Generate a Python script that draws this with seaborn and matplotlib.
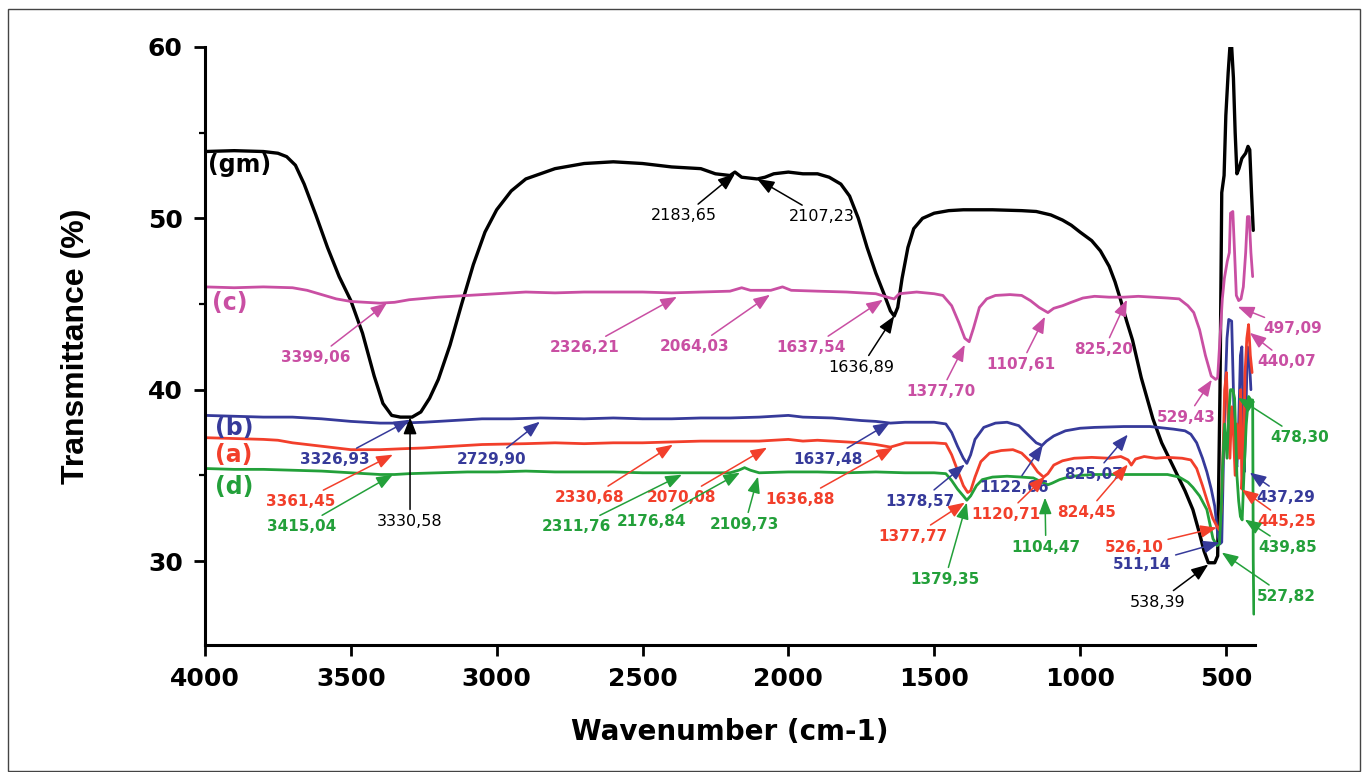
import matplotlib
matplotlib.use('Agg')
import matplotlib.pyplot as plt
import seaborn as sns
from matplotlib.patches import Rectangle
from matplotlib.ticker import MultipleLocator

# ---- spectra (wavenumber cm-1, transmittance %) ----
gm_wn = [4000, 3900, 3800, 3750, 3720, 3690, 3660, 3620, 3580, 3540, 3500, 3460, 3420, 3390, 3360,
         3330, 3290, 3260, 3230, 3200, 3160, 3120, 3080, 3040, 3000, 2950, 2900, 2850, 2800, 2700,
         2600, 2500, 2400, 2300, 2250, 2200, 2183, 2160, 2107, 2080, 2050, 2000, 1950, 1900, 1860,
         1820, 1790, 1760, 1730, 1700, 1670, 1650, 1637, 1625, 1610, 1590, 1570, 1540, 1500, 1450,
         1400, 1300, 1200, 1150, 1100, 1060, 1030, 1000, 960, 930, 900, 880, 860, 840, 820, 790,
         750, 720, 680, 640, 613, 590, 575, 560, 538, 528, 520, 514, 506, 500, 492, 486, 480, 474,
         468, 462, 455, 445, 432, 424, 418, 412, 406]
gm_t = [53.9, 53.95, 53.9, 53.8, 53.6, 53.1, 52.0, 50.2, 48.3, 46.6, 45.2, 43.3, 40.8, 39.2, 38.5,
        38.4, 38.4, 38.7, 39.5, 40.6, 42.6, 45.0, 47.3, 49.2, 50.5, 51.6, 52.3, 52.6, 52.9, 53.2,
        53.3, 53.2, 53.0, 52.9, 52.6, 52.5, 52.7, 52.4, 52.3, 52.4, 52.6, 52.7, 52.6, 52.6, 52.4,
        52.0, 51.3, 50.0, 48.3, 46.8, 45.5, 44.6, 44.3, 44.8, 46.5, 48.3, 49.4, 50.0, 50.3, 50.45,
        50.5, 50.5, 50.45, 50.4, 50.2, 49.9, 49.6, 49.2, 48.7, 48.1, 47.2, 46.3, 45.2, 44.0, 42.9, 40.7,
        38.3, 36.9, 35.5, 34.1, 33.0, 31.6, 30.6, 29.9, 29.9, 30.3, 40.0, 51.5, 52.5, 56.0, 58.5, 60.0, 60.0, 58.2,
        55.0, 52.6, 52.9, 53.5, 53.8, 54.2, 54.0, 51.5, 49.3]

c_wn = [4000, 3900, 3800, 3700, 3650, 3600, 3550, 3500, 3450, 3400, 3350, 3300, 3200, 3100, 3000,
        2900, 2800, 2700, 2600, 2500, 2400, 2300, 2200, 2160, 2130, 2060, 2020, 1990, 1900, 1800,
        1700, 1650, 1637, 1620, 1560, 1500, 1470, 1440, 1415, 1395, 1380, 1365, 1345, 1320, 1290,
        1240, 1200, 1170, 1140, 1110, 1090, 1060, 1030, 990, 950, 900, 850, 800, 750, 700, 660,
        630, 610, 590, 570, 550, 535, 528, 520, 512, 505, 495, 488, 484, 476, 470, 464, 456, 448,
        440, 432, 426, 420, 414, 408]
c_t = [46.0, 45.95, 46.0, 45.95, 45.8, 45.55, 45.3, 45.15, 45.1, 45.05, 45.1, 45.25, 45.4, 45.5, 45.6,
       45.7, 45.65, 45.7, 45.7, 45.7, 45.65, 45.7, 45.75, 45.95, 45.8, 45.8, 46.0, 45.8, 45.75, 45.7,
       45.6, 45.35, 45.3, 45.6, 45.7, 45.6, 45.5, 44.9, 43.9, 43.0, 42.8, 43.6, 44.8, 45.3, 45.5,
       45.55, 45.5, 45.2, 44.8, 44.5, 44.75, 44.9, 45.1, 45.35, 45.45, 45.4, 45.4, 45.45, 45.4, 45.35, 45.3,
       44.9, 44.5, 43.5, 42.0, 40.8, 40.6, 40.7, 43.0, 45.3, 46.5, 47.5, 48.0, 50.3, 50.4, 48.0, 45.5, 45.2, 45.3,
       46.0, 48.0, 50.1, 50.1, 48.0, 46.6]

b_wn = [4000, 3900, 3800, 3700, 3600, 3500, 3400, 3330, 3250, 3150, 3050, 2950, 2850, 2700, 2600,
        2500, 2400, 2300, 2200, 2100, 2000, 1950, 1850, 1750, 1700, 1650, 1600, 1500, 1460, 1440,
        1420, 1400, 1388, 1375, 1360, 1330, 1290, 1250, 1210, 1180, 1150, 1130, 1115, 1090, 1050,
        1000, 950, 850, 760, 680, 640, 620, 600, 580, 565, 550, 538, 528, 520, 514, 508, 502, 496,
        490, 480, 474, 468, 462, 456, 450, 445, 440, 437, 432, 426, 420, 414]
b_t = [38.5, 38.45, 38.4, 38.4, 38.3, 38.15, 38.05, 38.05, 38.1, 38.2, 38.3, 38.3, 38.35, 38.3, 38.35,
       38.3, 38.3, 38.35, 38.35, 38.4, 38.5, 38.4, 38.35, 38.2, 38.15, 38.05, 38.1, 38.1, 38.0, 37.5,
       36.7, 36.0, 35.7, 36.2, 37.1, 37.8, 38.05, 38.1, 37.9, 37.4, 36.9, 36.75, 37.0, 37.3, 37.6,
       37.75, 37.8, 37.85, 37.85, 37.7, 37.6, 37.4, 36.9, 36.0, 35.2, 34.2, 33.2, 31.6, 31.0, 31.1, 36.0, 40.0, 43.0,
       44.1, 44.0, 40.0, 36.0, 35.5, 38.0, 42.0, 42.5, 37.0, 35.2, 38.0, 42.5, 42.0, 40.0]

a_wn = [4000, 3900, 3800, 3750, 3700, 3650, 3600, 3550, 3500, 3400, 3330, 3250, 3150, 3050, 2900,
        2800, 2700, 2600, 2500, 2400, 2300, 2200, 2100, 2000, 1950, 1900, 1800, 1750, 1700, 1650,
        1600, 1500, 1460, 1440, 1420, 1400, 1385, 1375, 1360, 1340, 1310, 1270, 1230, 1200, 1170,
        1145, 1125, 1110, 1090, 1060, 1020, 960, 900, 860, 835, 824, 810, 780, 740, 700, 650, 620,
        600, 580, 560, 545, 530, 522, 516, 510, 504, 498, 492, 486, 480, 474, 468, 462, 455, 449,
        445, 440, 434, 428, 422, 416, 410]
a_t = [37.2, 37.15, 37.1, 37.05, 36.9, 36.8, 36.7, 36.6, 36.5, 36.5, 36.55, 36.6, 36.7, 36.8, 36.85,
       36.9, 36.85, 36.9, 36.9, 36.95, 37.0, 37.0, 37.0, 37.1, 37.0, 37.05, 36.95, 36.9, 36.8, 36.65,
       36.9, 36.9, 36.85, 36.2, 35.3, 34.4, 34.0, 34.1, 34.9, 35.8, 36.3, 36.45, 36.5, 36.3, 35.8,
       35.2, 34.9, 35.1, 35.6, 35.85, 36.0, 36.05, 36.0, 36.1, 35.9, 35.6, 35.95, 36.1, 36.0, 36.05, 36.0, 35.9,
       35.4, 34.4, 33.3, 32.5, 32.0, 31.8, 33.0, 36.0, 40.0, 41.0, 38.0, 36.0, 39.0, 37.5, 35.0, 38.0, 36.0, 40.0,
       34.2, 36.0, 41.0, 43.0, 43.8, 42.0, 41.0]

d_wn = [4000, 3900, 3800, 3700, 3600, 3500, 3450, 3400, 3350, 3300, 3200, 3100, 3000, 2900, 2800,
        2700, 2600, 2500, 2400, 2300, 2200, 2170, 2150, 2130, 2100, 2000, 1900, 1800, 1700, 1600,
        1500, 1460, 1440, 1420, 1400, 1388, 1375, 1355, 1335, 1300, 1250, 1200, 1160, 1130, 1110,
        1095, 1070, 1040, 1000, 950, 900, 800, 700, 660, 630, 613, 590, 565, 544, 530, 522, 516,
        510, 504, 496, 490, 484, 476, 470, 462, 456, 450, 444, 438, 430, 422, 414, 408, 406, 404]
d_t = [35.4, 35.35, 35.35, 35.3, 35.25, 35.15, 35.1, 35.05, 35.05, 35.1, 35.15, 35.2, 35.2, 35.25, 35.2,
       35.2, 35.2, 35.15, 35.15, 35.15, 35.15, 35.3, 35.45, 35.3, 35.15, 35.2, 35.2, 35.15, 35.2, 35.15,
       35.15, 35.1, 34.7, 34.2, 33.8, 33.55, 33.8, 34.4, 34.75, 34.9, 34.95, 34.9, 34.85, 34.6, 34.45,
       34.55, 34.75, 34.9, 35.0, 35.05, 35.05, 35.05, 35.05, 34.9, 34.6, 34.3, 33.8, 33.0, 31.3, 30.9, 31.0, 33.0,
       36.0, 38.0, 36.0, 38.5, 40.0, 40.0, 39.5, 35.0, 33.5, 32.6, 32.4, 35.0, 38.0, 39.6, 39.4, 39.4, 30.0, 26.9]

# ---- peak annotations: label, tip (wn, T), text (wn, T) ----
gm_labels = ['2183,65', '2107,23', '1636,89', '3330,58', '538,39']
gm_tip = [(2183, 52.6), (2107, 52.3), (1637, 44.3), (3297, 38.4), (560, 29.8)]
gm_txt = [(2358, 50.15), (1885, 50.1), (1751, 41.3), (3297, 32.3), (733, 27.6)]

c_labels = ['3399,06', '2326,21', '2064,03', '1637,54', '1377,70', '1107,61', '825,20', '529,43',
            '497,09', '440,07']
c_tip = [(3376, 45.07), (2382, 45.42), (2063, 45.54), (1676, 45.25), (1395, 42.62), (1120, 44.26),
         (839, 45.25), (548, 40.58), (459, 44.84), (418, 43.32)]
c_txt = [(3619, 41.87), (2697, 42.45), (2320, 42.5), (1923, 42.45), (1477, 39.88), (1203, 41.46),
         (918, 42.33), (634, 38.37), (270, 43.56), (291, 41.63)]

b_labels = ['3326,93', '2729,90', '1637,48', '1378,57', '1122,66', '825,07', '511,14', '437,29']
b_tip = [(3297, 38.25), (2852, 38.13), (1652, 38.08), (1395, 35.63), (1127, 36.79), (836, 37.38),
         (521, 31.08), (418, 35.16)]
b_txt = [(3554, 35.92), (3016, 35.92), (1864, 35.92), (1549, 33.47), (1227, 34.29), (952, 35.04),
         (788, 29.8), (294, 33.7)]

a_labels = ['3361,45', '2330,68', '2070,08', '1636,88', '1377,77', '1120,71', '824,45', '526,10', '445,25']
a_tip = [(3356, 36.21), (2396, 36.79), (2073, 36.62), (1641, 36.62), (1395, 33.41), (1120, 34.93),
         (836, 35.63), (531, 31.95), (445, 34.17)]
a_txt = [(3671, 33.47), (2680, 33.7), (2365, 33.7), (1960, 33.59), (1573, 31.43), (1254, 32.71),
         (977, 32.83), (815, 30.79), (291, 32.3)]

d_labels = ['3415,04', '2311,76', '2176,84', '2109,73', '1379,35', '1104,47', '478,30', '439,85', '527,82']
d_tip = [(3356, 35.04), (2365, 35.04), (2166, 35.16), (2104, 34.93), (1388, 33.41), (1120, 33.7),
         (459, 39.53), (435, 32.42), (514, 30.5)]
d_txt = [(3667, 32.0), (2725, 32.0), (2468, 32.3), (2149, 32.13), (1463, 28.92), (1117, 30.79),
         (246, 37.2), (287, 30.79), (294, 27.93)]

sample_tags = ['(gm)', '(c)', '(b)', '(a)', '(d)']
tag_pos = [(3990, 53.1), (3976, 45.07), (3966, 37.78), (3966, 36.2), (3966, 34.34)]

colors = {'gm': '#000000', 'c': '#C94FA3', 'b': '#363A9A', 'a': '#F23F2B', 'd': '#23A03A'}

sns.set_style('ticks', {'axes.edgecolor': 'black', 'xtick.color': 'black', 'ytick.color': 'black',
                        'text.color': 'black', 'axes.labelcolor': 'black'})
plt.rcParams['font.family'] = ['DejaVu Sans']

fig = plt.figure(figsize=(13.62, 7.72), dpi=100)
ax = fig.add_axes([205 / 1362, 1 - 645 / 772, 1050 / 1362, 598 / 772])

series = [('gm', gm_wn, gm_t, 2.4), ('c', c_wn, c_t, 2.0), ('b', b_wn, b_t, 2.0),
          ('a', a_wn, a_t, 2.0), ('d', d_wn, d_t, 2.0)]
for key, wn, t, lw in series:
    sns.lineplot(x=wn, y=t, ax=ax, color=colors[key], linewidth=lw, sort=False, estimator=None)

ann_sets = [('gm', gm_labels, gm_tip, gm_txt), ('c', c_labels, c_tip, c_txt),
            ('b', b_labels, b_tip, b_txt), ('a', a_labels, a_tip, a_txt),
            ('d', d_labels, d_tip, d_txt)]
for key, labels, tips, txts in ann_sets:
    col = colors[key]
    bold = key != 'gm'
    for lab, tip, txt in zip(labels, tips, txts):
        ax.annotate(lab, xy=tip, xytext=txt, ha='center', va='center', color=col,
                    fontsize=11 if bold else 11.5, fontweight='bold' if bold else 'normal',
                    annotation_clip=False,
                    arrowprops=dict(arrowstyle='-|>,head_length=0.9,head_width=0.35',
                                    color=col, lw=1.1, shrinkA=1, shrinkB=0))

for tag, pos, key in zip(sample_tags, tag_pos, ['gm', 'c', 'b', 'a', 'd']):
    ax.text(pos[0], pos[1], tag, color=colors[key], fontsize=17, fontweight='bold',
            ha='left', va='center')

ax.set_xlim(4000, 400)
ax.set_ylim(25.1, 60)
ax.xaxis.set_major_locator(MultipleLocator(500))
ax.yaxis.set_major_locator(MultipleLocator(10))
ax.yaxis.set_minor_locator(MultipleLocator(5))
sns.despine(ax=ax)
for sp in ['left', 'bottom']:
    ax.spines[sp].set_linewidth(2.2)
    ax.spines[sp].set_color('black')
ax.tick_params(axis='both', which='major', length=8, width=2, labelsize=18, pad=8,
               colors='black', labelcolor='black')
ax.tick_params(axis='y', which='minor', length=4, width=1.6, colors='black')
for lbl in ax.get_xticklabels() + ax.get_yticklabels():
    lbl.set_fontweight('bold')

ax.set_xlabel('Wavenumber (cm-1)', fontsize=20, fontweight='bold', color='black')
ax.set_ylabel('Transmittance (%)', fontsize=23, fontweight='bold', color='black',
              family=['Liberation Sans', 'DejaVu Sans'])
ax.xaxis.set_label_coords(0.5, -0.122)
ax.yaxis.set_label_coords(-0.109, 0.5)

fig.add_artist(Rectangle((8 / 1362, 1 / 772), 1352 / 1362, 762 / 772, transform=fig.transFigure,
                         fill=False, edgecolor='#444444', linewidth=1))

fig.savefig('out.png', dpi=100)
